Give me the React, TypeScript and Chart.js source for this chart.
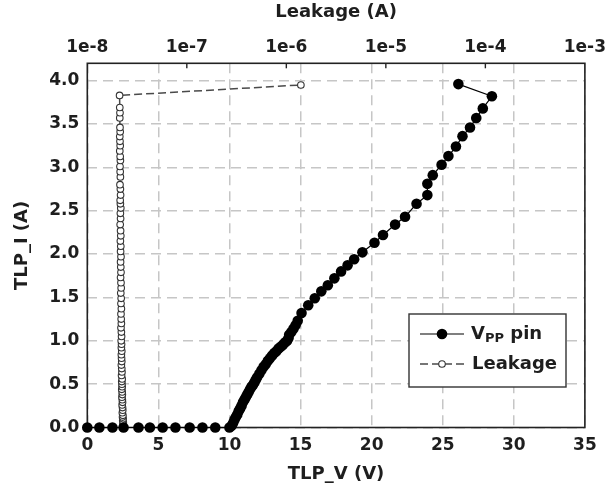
import React, { useEffect, useRef } from "react";
import { Chart, registerables } from "chart.js";

Chart.register(...registerables);

// ---- data ----
const vppV = [
  0, 0.85, 1.77, 2.55, 3.6, 4.4, 5.3, 6.2, 7.2, 8.1, 9.0, 10.0,
  10.15, 10.25, 10.35, 10.45, 10.55, 10.65, 10.75, 10.85, 10.95, 11.05,
  11.15, 11.25, 11.35, 11.45, 11.55, 11.65, 11.75, 11.85, 11.95, 12.1,
  12.25, 12.4, 12.55, 12.7, 12.85, 13.0, 13.15, 13.3, 13.45, 13.6,
  13.75, 13.9, 14.05, 14.15, 14.2, 14.35, 14.5, 14.65, 14.8, 15.07,
  15.54, 16.0, 16.46, 16.92, 17.38, 17.85, 18.31, 18.77, 19.35, 20.2,
  20.8, 21.65, 22.35, 23.16, 23.92, 23.92, 24.3, 24.92, 25.4, 25.93,
  26.39, 26.92, 27.36, 27.82, 28.46, 26.1,
];
const vppI = [
  0, 0, 0, 0, 0, 0, 0, 0, 0, 0, 0, 0,
  0.02, 0.05, 0.09, 0.12, 0.15, 0.19, 0.22, 0.25, 0.29, 0.32,
  0.35, 0.38, 0.41, 0.44, 0.47, 0.49, 0.52, 0.55, 0.58, 0.62,
  0.66, 0.7, 0.73, 0.77, 0.8, 0.83, 0.86, 0.88, 0.91, 0.93,
  0.95, 0.98, 1.0, 1.03, 1.07, 1.1, 1.14, 1.18, 1.23, 1.32,
  1.41, 1.49, 1.57, 1.64, 1.72, 1.8, 1.87, 1.94, 2.02, 2.13,
  2.22, 2.34, 2.43, 2.58, 2.68, 2.81, 2.91, 3.03, 3.13, 3.24,
  3.36, 3.46, 3.57, 3.68, 3.82, 3.96,
];

const leakI = [
  0, 0.02, 0.04, 0.06, 0.08, 0.1, 0.12, 0.14, 0.17, 0.2,
  0.23, 0.26, 0.29, 0.32, 0.35, 0.38, 0.41, 0.44, 0.47, 0.5,
  0.53, 0.56, 0.6, 0.64, 0.68, 0.72, 0.76, 0.8, 0.84, 0.88,
  0.92, 0.96, 1.0, 1.05, 1.1, 1.15, 1.2, 1.25, 1.31, 1.37,
  1.43, 1.49, 1.55, 1.61, 1.67, 1.73, 1.79, 1.85, 1.91, 1.97,
  2.03, 2.09, 2.15, 2.21, 2.27, 2.34, 2.41, 2.47, 2.53, 2.58,
  2.62, 2.68, 2.75, 2.8, 2.89, 2.95, 3.01, 3.08, 3.125, 3.19,
  3.25, 3.3, 3.355, 3.41, 3.46, 3.57, 3.63, 3.69, 3.83, 3.95,
];
const leakA = [
  2.3e-8, 2.3e-8, 2.28e-8, 2.3e-8, 2.27e-8, 2.29e-8, 2.26e-8, 2.28e-8, 2.25e-8, 2.27e-8,
  2.26e-8, 2.24e-8, 2.26e-8, 2.25e-8, 2.23e-8, 2.25e-8, 2.24e-8, 2.22e-8, 2.24e-8, 2.23e-8,
  2.22e-8, 2.24e-8, 2.21e-8, 2.23e-8, 2.22e-8, 2.2e-8, 2.22e-8, 2.21e-8, 2.2e-8, 2.22e-8,
  2.2e-8, 2.21e-8, 2.19e-8, 2.21e-8, 2.2e-8, 2.18e-8, 2.2e-8, 2.19e-8, 2.18e-8, 2.2e-8,
  2.18e-8, 2.19e-8, 2.17e-8, 2.19e-8, 2.18e-8, 2.16e-8, 2.18e-8, 2.17e-8, 2.16e-8, 2.18e-8,
  2.16e-8, 2.17e-8, 2.15e-8, 2.17e-8, 2.16e-8, 2.14e-8, 2.16e-8, 2.15e-8, 2.17e-8, 2.15e-8,
  2.14e-8, 2.16e-8, 2.15e-8, 2.13e-8, 2.15e-8, 2.14e-8, 2.13e-8, 2.15e-8, 2.14e-8, 2.12e-8,
  2.14e-8, 2.13e-8, 2.12e-8, 2.14e-8, 2.13e-8, 2.12e-8, 2.13e-8, 2.12e-8, 2.11e-8, 1.4e-6,
];

const xTicks = [0, 5, 10, 15, 20, 25, 30, 35];
const yTicks = [0, 0.5, 1.0, 1.5, 2.0, 2.5, 3.0, 3.5, 4.0];
const topTicks = [1e-8, 1e-7, 1e-6, 1e-5, 1e-4, 1e-3];
const topLabels = ["1e-8", "1e-7", "1e-6", "1e-5", "1e-4", "1e-3"];

const FONT = "'DejaVu Sans', Verdana, sans-serif";
const TEXT = "#1e1e1e";
const GRID = "#c6c6c6";

const framePlugin = {
  id: "frame",
  beforeDatasetsDraw(chart: any) {
    const { ctx, chartArea: a } = chart;
    ctx.save();
    ctx.strokeStyle = "#222";
    ctx.lineWidth = 1.6;
    ctx.setLineDash([]);
    ctx.strokeRect(a.left, a.top, a.right - a.left, a.bottom - a.top);
    // inward ticks on top log axis
    const top = chart.scales.xTop;
    ctx.lineWidth = 1.4;
    topTicks.forEach((v) => {
      const px = top.getPixelForValue(v);
      if (px <= a.left + 1 || px >= a.right - 1) return;
      ctx.beginPath();
      ctx.moveTo(px, a.top);
      ctx.lineTo(px, a.top + 5);
      ctx.stroke();
    });
    ctx.restore();
  },
};

const legendPlugin = {
  id: "customLegend",
  afterDraw(chart: any) {
    const { ctx } = chart;
    const ds = chart.data.datasets;
    const bx = 409, by = 314, bw = 157, bh = 73;
    ctx.save();
    ctx.fillStyle = "#fff";
    ctx.fillRect(bx, by, bw, bh);
    ctx.strokeStyle = "#333";
    ctx.lineWidth = 1.4;
    ctx.setLineDash([]);
    ctx.strokeRect(bx, by, bw, bh);

    const rows = [by + 20, by + 50];
    const x0 = 420, x1 = 464, xm = 442;
    ds.forEach((d: any, i: number) => {
      const y = rows[i];
      ctx.beginPath();
      ctx.strokeStyle = d.borderColor;
      ctx.lineWidth = d.borderWidth;
      ctx.setLineDash(d.borderDash || []);
      ctx.moveTo(x0, y);
      ctx.lineTo(x1, y);
      ctx.stroke();
      ctx.setLineDash([]);
      ctx.beginPath();
      ctx.arc(xm, y, d.pointRadius, 0, Math.PI * 2);
      ctx.fillStyle = d.pointBackgroundColor;
      ctx.fill();
      ctx.lineWidth = d.pointBorderWidth;
      ctx.strokeStyle = d.pointBorderColor;
      if (d.pointBorderWidth > 0) ctx.stroke();
    });

    ctx.fillStyle = TEXT;
    ctx.textBaseline = "middle";
    ctx.textAlign = "left";
    // row 1: V_PP pin
    let tx = 471;
    ctx.font = `bold 18px ${FONT}`;
    ctx.fillText("V", tx, rows[0]);
    tx += ctx.measureText("V").width;
    ctx.font = `bold 13px ${FONT}`;
    ctx.fillText("PP", tx, rows[0] + 5);
    tx += ctx.measureText("PP").width;
    ctx.font = `bold 18px ${FONT}`;
    ctx.fillText(" pin", tx, rows[0]);
    // row 2
    ctx.fillText("Leakage", 472, rows[1]);
    ctx.restore();
  },
};

export default function App() {
  const ref = useRef<HTMLCanvasElement>(null);

  useEffect(() => {
    document.body.style.margin = "0";
    const canvas = ref.current;
    if (!canvas) return;
    const tickFont = { family: FONT, size: 17, weight: "bold" as const };
    const titleFont = { family: FONT, size: 18, weight: "bold" as const };

    const chart = new Chart(canvas, {
      type: "scatter",
      data: {
        datasets: [
          {
            label: "VPP pin",
            data: vppV.map((v, i) => ({ x: v, y: vppI[i] })),
            xAxisID: "x",
            yAxisID: "y",
            showLine: true,
            borderColor: "#000",
            borderWidth: 1.2,
            pointRadius: 5.3,
            pointBackgroundColor: "#000",
            pointBorderColor: "#000",
            pointBorderWidth: 0,
            clip: false,
            order: 1,
          },
          {
            label: "Leakage",
            data: leakA.map((a, i) => ({ x: a, y: leakI[i] })),
            xAxisID: "xTop",
            yAxisID: "y",
            showLine: true,
            borderColor: "#4a4a4a",
            borderWidth: 1.5,
            borderDash: [8, 4],
            pointRadius: 3.3,
            pointBackgroundColor: "#fff",
            pointBorderColor: "#333",
            pointBorderWidth: 1.1,
            clip: false,
            order: 2,
          },
        ],
      },
      options: {
        responsive: false,
        animation: false,
        devicePixelRatio: 1,
        layout: { padding: { left: 0, right: 19, top: 0, bottom: 0 } },
        plugins: {
          legend: { display: false },
          tooltip: { enabled: false },
        },
        scales: {
          x: {
            type: "linear",
            position: "bottom",
            min: 0,
            max: 35,
            afterBuildTicks: (s: any) => {
              s.ticks = xTicks.map((v) => ({ value: v }));
            },
            afterFit: (s: any) => {
              s.height = 64.5;
            },
            ticks: {
              padding: 8,
              font: tickFont,
              color: TEXT,
              callback: (v: any) => String(v),
            },
            grid: { color: GRID, lineWidth: 1.5, drawTicks: false },
            border: { display: false, dash: [10, 6] },
            title: {
              display: true,
              text: "TLP_V (V)",
              font: titleFont,
              color: TEXT,
              padding: { top: 0, bottom: 7 },
            },
          },
          xTop: {
            type: "logarithmic",
            position: "top",
            min: 1e-8,
            max: 1e-3,
            afterBuildTicks: (s: any) => {
              s.ticks = topTicks.map((v) => ({ value: v }));
            },
            afterFit: (s: any) => {
              s.height = 63.3;
            },
            ticks: {
              padding: 6,
              font: tickFont,
              color: TEXT,
              autoSkip: false,
              maxRotation: 0,
              callback: (_v: any, i: number) => topLabels[i],
            },
            grid: { display: false, drawTicks: false },
            border: { display: false },
            title: {
              display: true,
              text: "Leakage (A)",
              font: titleFont,
              color: TEXT,
              padding: { top: 2, bottom: 0 },
            },
          },
          y: {
            type: "linear",
            position: "left",
            min: 0,
            max: 4.2,
            afterBuildTicks: (s: any) => {
              s.ticks = yTicks.map((v) => ({ value: v }));
            },
            afterFit: (s: any) => {
              s.width = 87.3;
            },
            ticks: {
              padding: 8,
              font: tickFont,
              color: TEXT,
              callback: (v: any) => Number(v).toFixed(1),
            },
            grid: { color: GRID, lineWidth: 1.5, drawTicks: false },
            border: { display: false, dash: [10, 6] },
            title: {
              display: true,
              text: "TLP_I (A)",
              font: titleFont,
              color: TEXT,
              padding: { top: 12, bottom: 0 },
            },
          },
        },
      },
      plugins: [framePlugin, legendPlugin],
    } as any);

    return () => chart.destroy();
  }, []);

  return (
    <div style={{ width: 612, height: 492, position: "relative" }}>
      <canvas ref={ref} width={612} height={492} style={{ display: "block" }} />
    </div>
  );
}
